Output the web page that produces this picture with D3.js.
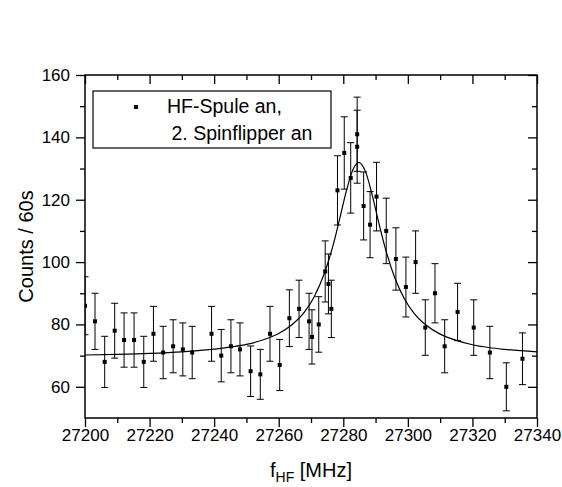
<!DOCTYPE html>
<meta charset="utf-8">
<title>HF-Spule Resonanz</title>
<style>
    body { margin: 0; background: #fff; }
    svg { font-family: "Liberation Sans", Arial, sans-serif; }
</style>
<script src="https://d3js.org/d3.v7.min.js"></script>
<svg id="chart" width="562" height="487"></svg>
<script>
    // measured points: frequency [MHz], counts per 60s, error
    const freq = [27200, 27203.1, 27206.1, 27209.2, 27212.1, 27215.2, 27218.2, 27221.2, 27224.2, 27227.3,
        27230.3, 27233.2, 27239.2, 27242.2, 27245.2, 27248, 27251.3, 27254.3, 27257.3, 27260.3,
        27263.3, 27266.3, 27269.4, 27270.3, 27272.4, 27274.4, 27275.4, 27276.3, 27278.2, 27280.3,
        27282.3, 27284.3, 27284.3, 27286.3, 27288.3, 27290.3, 27293.3, 27296.3, 27299.4, 27302.4,
        27305.4, 27308.4, 27311.4, 27315.4, 27320.4, 27325.4, 27330.5, 27335.5];
    const counts = [86, 81, 68, 78, 75, 75, 68, 77, 71, 73,
        72, 71, 77, 70, 73, 72, 65, 64, 77, 67,
        82, 85, 81, 76, 80, 97, 93, 85, 123, 135,
        127, 141, 137, 118, 112, 121, 110, 101, 92, 100,
        79, 90, 73, 84, 79, 71, 60, 69];
    const errs = [9.3, 9.0, 8.2, 8.8, 8.7, 8.7, 8.2, 8.8, 8.4, 8.5,
        8.5, 8.4, 8.8, 8.4, 8.5, 8.5, 8.1, 8.0, 8.8, 8.2,
        9.1, 9.2, 9.0, 8.7, 8.9, 9.8, 9.6, 9.2, 11.1, 11.6,
        11.3, 11.9, 11.7, 10.9, 10.6, 11.0, 10.5, 10.0, 9.6, 10.0,
        8.9, 9.5, 8.5, 9.2, 8.9, 8.4, 7.7, 8.3];

    // Lorentz fit curve
    const fitX = [27200, 27210, 27220, 27230, 27240, 27245, 27250, 27255, 27260, 27264,
        27268, 27271, 27274, 27277, 27279, 27281, 27283, 27284.8, 27287, 27289,
        27291, 27293, 27296, 27299, 27302, 27306, 27310, 27315, 27320, 27325, 27330, 27340];
    const fitY = [70.2, 70.4, 70.7, 71.2, 72.1, 72.7, 73.6, 75.0, 77.1, 79.8,
        84.0, 88.9, 96.0, 106.0, 114.4, 123.0, 129.7, 132.0, 128.7, 121.3,
        112.6, 104.5, 94.8, 88.1, 83.5, 79.5, 76.9, 74.9, 73.5, 72.6, 72.0, 71.2];

    const xMajor = d3.range(27200, 27341, 20);
    const xMinor = d3.range(27210, 27340, 20);
    const yMajor = [60, 80, 100, 120, 140, 160];
    const yMinor = [70, 90, 110, 130, 150];

    const svg = d3.select("#chart");
    const mLeft = 85, mRight = 537, mTop = 75, mBottom = 418;

    const x = d3.scaleLinear().domain([27200, 27340]).range([mLeft, mRight]);
    const y = d3.scaleLinear().domain([50, 160]).range([mBottom, mTop]);

    const pts = freq.map((f, i) => ({f: f, c: counts[i], e: errs[i]}));

    svg.append("clipPath").attr("id", "plotClip")
        .append("rect")
        .attr("x", mLeft).attr("y", mTop)
        .attr("width", mRight - mLeft).attr("height", mBottom - mTop);

    // axes
    function styleAxis(g, keepText) {
        g.select(".domain").remove();
        g.selectAll("line").attr("stroke", "#000").attr("stroke-width", 1.3);
        if (!keepText) g.selectAll("text").remove();
        g.selectAll("text").attr("fill", "#000").style("font-size", "17px");
    }

    svg.append("g").attr("transform", `translate(0,${mBottom})`)
        .call(d3.axisBottom(x).tickValues(xMajor).tickSize(9).tickPadding(2).tickFormat(d3.format("d")))
        .call(g => styleAxis(g, true));
    svg.append("g").attr("transform", `translate(0,${mBottom})`)
        .call(d3.axisBottom(x).tickValues(xMinor).tickSize(5))
        .call(g => styleAxis(g, false));
    svg.append("g").attr("transform", `translate(0,${mTop})`)
        .call(d3.axisTop(x).tickValues(xMajor).tickSize(-9))
        .call(g => styleAxis(g, false));
    svg.append("g").attr("transform", `translate(0,${mTop})`)
        .call(d3.axisTop(x).tickValues(xMinor).tickSize(-5))
        .call(g => styleAxis(g, false));

    svg.append("g").attr("transform", `translate(${mLeft},0)`)
        .call(d3.axisLeft(y).tickValues(yMajor).tickSize(9).tickPadding(6))
        .call(g => styleAxis(g, true));
    svg.append("g").attr("transform", `translate(${mLeft},0)`)
        .call(d3.axisLeft(y).tickValues(yMinor).tickSize(5))
        .call(g => styleAxis(g, false));
    svg.append("g").attr("transform", `translate(${mRight},0)`)
        .call(d3.axisRight(y).tickValues(yMajor).tickSize(-9))
        .call(g => styleAxis(g, false));
    svg.append("g").attr("transform", `translate(${mRight},0)`)
        .call(d3.axisRight(y).tickValues(yMinor).tickSize(-5))
        .call(g => styleAxis(g, false));

    // frame
    svg.append("rect")
        .attr("x", mLeft).attr("y", mTop)
        .attr("width", mRight - mLeft).attr("height", mBottom - mTop)
        .attr("fill", "none").attr("stroke", "#000").attr("stroke-width", 1.5);

    const plot = svg.append("g").attr("clip-path", "url(#plotClip)");

    // fit line
    const line = d3.line()
        .x(d => x(d[0]))
        .y(d => y(d[1]))
        .curve(d3.curveMonotoneX);
    plot.append("path")
        .datum(fitX.map((v, i) => [v, fitY[i]]))
        .attr("d", line)
        .attr("fill", "none")
        .attr("stroke", "#000")
        .attr("stroke-width", 1.2);

    // error bars
    const cap = 3.5;
    const bars = plot.selectAll("g.err").data(pts).enter().append("g").attr("class", "err");
    bars.append("line")
        .attr("x1", d => x(d.f)).attr("x2", d => x(d.f))
        .attr("y1", d => y(d.c - d.e)).attr("y2", d => y(d.c + d.e));
    bars.append("line")
        .attr("x1", d => x(d.f) - cap).attr("x2", d => x(d.f) + cap)
        .attr("y1", d => y(d.c + d.e)).attr("y2", d => y(d.c + d.e));
    bars.append("line")
        .attr("x1", d => x(d.f) - cap).attr("x2", d => x(d.f) + cap)
        .attr("y1", d => y(d.c - d.e)).attr("y2", d => y(d.c - d.e));
    bars.selectAll("line").attr("stroke", "#000").attr("stroke-width", 1);

    // markers
    plot.selectAll("rect.pt").data(pts).enter().append("rect")
        .attr("class", "pt")
        .attr("x", d => x(d.f) - 2).attr("y", d => y(d.c) - 2)
        .attr("width", 4).attr("height", 4)
        .attr("fill", "#000");

    // legend
    const leg = svg.append("g");
    leg.append("rect")
        .attr("x", 93).attr("y", 91).attr("width", 238).attr("height", 57)
        .attr("fill", "#fff").attr("stroke", "#000").attr("stroke-width", 1.2);
    leg.append("rect")
        .attr("x", 134).attr("y", 105).attr("width", 4).attr("height", 4).attr("fill", "#000");
    leg.append("text").attr("x", 167).attr("y", 113)
        .style("font-size", "19.5px").text("HF-Spule an,");
    leg.append("text").attr("x", 171.5).attr("y", 140)
        .style("font-size", "19.5px").text("2. Spinflipper an");

    // axis titles
    const xt = svg.append("text")
        .attr("x", (mLeft + mRight) / 2).attr("y", 477)
        .attr("text-anchor", "middle")
        .style("font-size", "20px");
    xt.append("tspan").text("f");
    xt.append("tspan").attr("dy", 5).style("font-size", "14px").text("HF");
    xt.append("tspan").attr("dy", -5).text(" [MHz]");

    svg.append("text")
        .attr("transform", `translate(33,${(mTop + mBottom) / 2}) rotate(-90)`)
        .attr("text-anchor", "middle")
        .style("font-size", "20px")
        .text("Counts / 60s");
</script>
